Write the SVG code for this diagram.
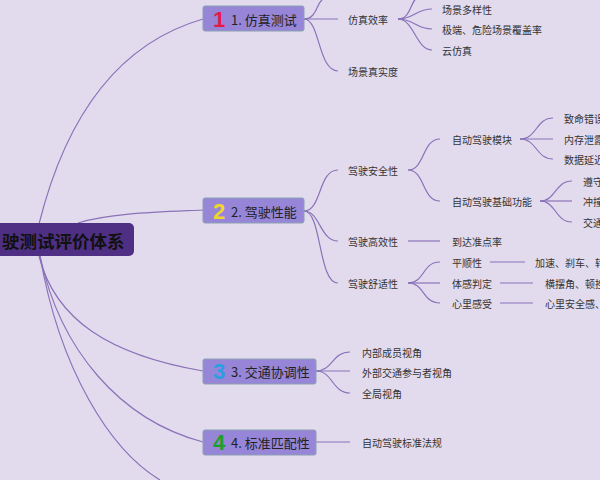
<svg xmlns="http://www.w3.org/2000/svg" width="600" height="480" viewBox="0 0 600 480">
<style>
text{font-family:"Noto Sans CJK SC","Liberation Sans",sans-serif}
.c{fill:none;stroke:#8a72b8;stroke-width:1.2}
.l{font-size:10px;fill:#333;dominant-baseline:central}
.b{fill:#9786d8;stroke:#8aa0b0;stroke-width:1}
.bt{font-size:13px;fill:#222;dominant-baseline:central}
.n{font-size:22px;font-weight:bold;font-family:"Liberation Sans",sans-serif;dominant-baseline:central}
</style>
<rect width="600" height="480" fill="#e2dbee"/>
<g id="connectors">
<path class="c" d="M39,224 C70,100 130,40 203,19"/>
<path class="c" d="M78,223 C110,213 160,212 203,210"/>
<path class="c" d="M39,256 C55,320 110,355 203,371"/>
<path class="c" d="M40,256 C60,350 120,420 203,442"/>
<path class="c" d="M40,256 C60,370 110,450 160,480"/>
<path class="c" d="M304,19 C318,19 316,0 325,-2"/>
<path class="c" d="M304,19 L338,19"/>
<path class="c" d="M304,19 C320,19 318,71 338,71"/>
<path class="c" d="M398,19 C412,19 410,-2 420,-4"/>
<path class="c" d="M398,19 C414,19 416,9 432,9"/>
<path class="c" d="M398,19 C414,19 416,29 432,29"/>
<path class="c" d="M398,19 C414,19 416,50 432,50"/>
<path class="c" d="M304,211 C322,211 318,170 338,170"/>
<path class="c" d="M304,211 C320,211 320,241 338,241"/>
<path class="c" d="M304,211 C322,211 318,283 338,283"/>
<path class="c" d="M408,170 C425,170 422,139 440,139"/>
<path class="c" d="M408,170 C425,170 422,201 440,201"/>
<path class="c" d="M520,139 C537,139 536,118 553,118"/>
<path class="c" d="M520,139 L553,139"/>
<path class="c" d="M520,139 C537,139 536,159 553,159"/>
<path class="c" d="M540,201 C556,201 555,181 572,181"/>
<path class="c" d="M540,201 L572,201"/>
<path class="c" d="M540,201 C556,201 555,222 572,222"/>
<path class="c" d="M408,241 L440,241"/>
<path class="c" d="M408,283 C425,283 422,262 440,262"/>
<path class="c" d="M408,283 L440,283"/>
<path class="c" d="M408,283 C425,283 422,303 440,303"/>
<path class="c" d="M490,262 L525,262"/>
<path class="c" d="M500,283 L533,283"/>
<path class="c" d="M500,303 L533,303"/>
<path class="c" d="M316,371 C333,371 332,352 350,352"/>
<path class="c" d="M316,371 L350,371"/>
<path class="c" d="M316,371 C333,371 332,393 350,393"/>
<path class="c" d="M316,442 L350,442"/>
</g>
<g id="root">
<rect x="-10" y="223" width="144" height="33" rx="5" fill="#4e2f84"/>
<text x="2" y="240" font-size="17.5" font-weight="bold" fill="#111" dominant-baseline="central">驶测试评价体系</text>
</g>
<g id="n1"><rect class="b" x="203" y="6" width="101" height="25" rx="2"/><text class="n" x="213" y="19" fill="#e5194a">1</text><text class="bt" x="231" y="19">1. 仿真测试</text></g>
<g id="n2"><rect class="b" x="203" y="198" width="101" height="25" rx="2"/><text class="n" x="213" y="211" fill="#f2d52a">2</text><text class="bt" x="231" y="211">2. 驾驶性能</text></g>
<g id="n3"><rect class="b" x="203" y="359" width="113" height="25" rx="2"/><text class="n" x="213" y="371" fill="#2a9fe0">3</text><text class="bt" x="231" y="371">3. 交通协调性</text></g>
<g id="n4"><rect class="b" x="203" y="430" width="113" height="25" rx="2"/><text class="n" x="213" y="442" fill="#1f9e2a">4</text><text class="bt" x="231" y="442">4. 标准匹配性</text></g>
<g id="leaves">
<text class="l" x="348" y="19">仿真效率</text>
<text class="l" x="348" y="71">场景真实度</text>
<text class="l" x="442" y="9">场景多样性</text>
<text class="l" x="442" y="29">极端、危险场景覆盖率</text>
<text class="l" x="442" y="50">云仿真</text>
<text class="l" x="348" y="170">驾驶安全性</text>
<text class="l" x="348" y="241">驾驶高效性</text>
<text class="l" x="348" y="283">驾驶舒适性</text>
<text class="l" x="452" y="139">自动驾驶模块</text>
<text class="l" x="452" y="201">自动驾驶基础功能</text>
<text class="l" x="564" y="118">致命错误</text>
<text class="l" x="564" y="139">内存泄露</text>
<text class="l" x="564" y="159">数据延迟</text>
<text class="l" x="583" y="181">遵守</text>
<text class="l" x="583" y="201">冲撞</text>
<text class="l" x="583" y="222">交通</text>
<text class="l" x="452" y="241">到达准点率</text>
<text class="l" x="452" y="262">平顺性</text>
<text class="l" x="452" y="283">体感判定</text>
<text class="l" x="452" y="303">心里感受</text>
<text class="l" x="535" y="262">加速、刹车、转</text>
<text class="l" x="545" y="283">横摆角、顿挫</text>
<text class="l" x="545" y="303">心里安全感、</text>
<text class="l" x="362" y="352">内部成员视角</text>
<text class="l" x="362" y="372">外部交通参与者视角</text>
<text class="l" x="362" y="393">全局视角</text>
<text class="l" x="362" y="442">自动驾驶标准法规</text>
</g>
</svg>
